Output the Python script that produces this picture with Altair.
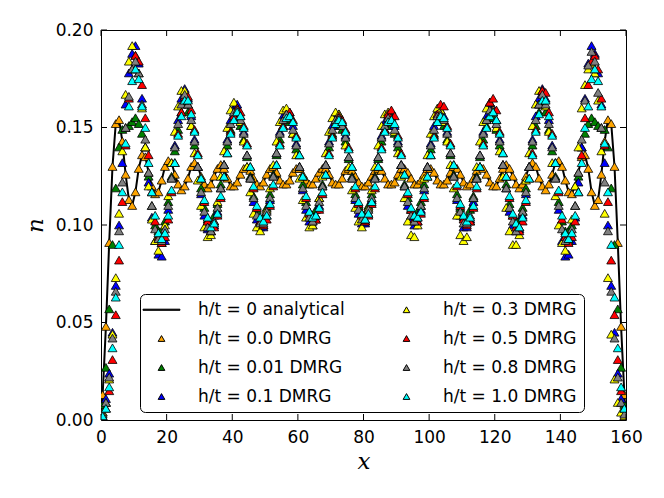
import altair as alt
import pandas as pd

# ---- data: density n at each lattice site (160 sites) ----
orange_l = [0.013, 0.048, 0.091, 0.130, 0.152, 0.154, 0.143, 0.126, 0.113, 0.110,
            0.117, 0.129, 0.136, 0.135, 0.127, 0.120, 0.116, 0.117, 0.123, 0.130,
            0.133, 0.132, 0.126, 0.121, 0.118, 0.120, 0.124, 0.130, 0.132, 0.130,
            0.125, 0.121, 0.119, 0.121, 0.125, 0.129, 0.131, 0.129, 0.124, 0.120,
            0.120, 0.122, 0.126, 0.129, 0.130, 0.128, 0.124, 0.121, 0.120, 0.122,
            0.126, 0.129, 0.130, 0.127, 0.123, 0.121, 0.121, 0.123, 0.127, 0.129,
            0.129, 0.126, 0.123, 0.121, 0.121, 0.124, 0.127, 0.129, 0.129, 0.126,
            0.122, 0.121, 0.121, 0.124, 0.128, 0.129, 0.128, 0.125, 0.122, 0.120]
orange_r = [0.120, 0.122, 0.125, 0.128, 0.129, 0.128, 0.124, 0.121, 0.121, 0.122,
            0.126, 0.129, 0.129, 0.127, 0.124, 0.121, 0.121, 0.123, 0.126, 0.129,
            0.129, 0.127, 0.123, 0.121, 0.121, 0.123, 0.127, 0.130, 0.129, 0.126,
            0.122, 0.120, 0.121, 0.124, 0.128, 0.130, 0.129, 0.126, 0.122, 0.120,
            0.120, 0.124, 0.129, 0.131, 0.129, 0.125, 0.121, 0.119, 0.121, 0.125,
            0.130, 0.132, 0.130, 0.124, 0.120, 0.118, 0.121, 0.126, 0.132, 0.133,
            0.130, 0.123, 0.117, 0.116, 0.120, 0.127, 0.135, 0.136, 0.129, 0.117,
            0.110, 0.113, 0.126, 0.143, 0.154, 0.152, 0.130, 0.091, 0.048, 0.013]

green_l = [0.008, 0.027, 0.057, 0.090, 0.119, 0.140, 0.149, 0.150, 0.151, 0.153,
           0.155, 0.152, 0.147, 0.140, 0.125, 0.110, 0.100, 0.097, 0.097, 0.102,
           0.112, 0.125, 0.138, 0.149, 0.158, 0.162, 0.158, 0.151, 0.141, 0.130,
           0.119, 0.109, 0.103, 0.101, 0.105, 0.111, 0.121, 0.131, 0.141, 0.149,
           0.155, 0.155, 0.151, 0.144, 0.135, 0.125, 0.115, 0.108, 0.104, 0.104,
           0.109, 0.116, 0.126, 0.136, 0.144, 0.151, 0.154, 0.153, 0.147, 0.139,
           0.130, 0.121, 0.112, 0.107, 0.105, 0.108, 0.114, 0.121, 0.131, 0.140,
           0.147, 0.151, 0.152, 0.149, 0.143, 0.134, 0.125, 0.116, 0.110, 0.106]
green_r = [0.106, 0.110, 0.116, 0.125, 0.134, 0.143, 0.149, 0.152, 0.151, 0.147,
           0.140, 0.131, 0.121, 0.114, 0.108, 0.105, 0.107, 0.112, 0.121, 0.130,
           0.139, 0.147, 0.153, 0.154, 0.151, 0.144, 0.136, 0.126, 0.116, 0.109,
           0.104, 0.104, 0.108, 0.115, 0.125, 0.135, 0.144, 0.151, 0.155, 0.155,
           0.149, 0.141, 0.131, 0.121, 0.111, 0.105, 0.101, 0.103, 0.109, 0.119,
           0.130, 0.141, 0.151, 0.158, 0.162, 0.158, 0.149, 0.138, 0.125, 0.112,
           0.102, 0.097, 0.097, 0.100, 0.110, 0.125, 0.140, 0.147, 0.152, 0.155,
           0.153, 0.151, 0.150, 0.149, 0.140, 0.119, 0.090, 0.057, 0.027, 0.008]

blue_l = [0.004, 0.011, 0.024, 0.045, 0.069, 0.100, 0.132, 0.162, 0.178, 0.188,
          0.192, 0.183, 0.165, 0.140, 0.122, 0.104, 0.092, 0.085, 0.084, 0.092,
          0.108, 0.124, 0.141, 0.154, 0.165, 0.170, 0.165, 0.156, 0.144, 0.130,
          0.116, 0.105, 0.098, 0.097, 0.100, 0.107, 0.119, 0.131, 0.144, 0.154,
          0.160, 0.162, 0.156, 0.148, 0.136, 0.124, 0.112, 0.103, 0.099, 0.099,
          0.105, 0.113, 0.125, 0.137, 0.148, 0.156, 0.159, 0.158, 0.151, 0.142,
          0.130, 0.118, 0.108, 0.102, 0.100, 0.103, 0.110, 0.120, 0.131, 0.143,
          0.151, 0.156, 0.157, 0.153, 0.146, 0.135, 0.124, 0.113, 0.106, 0.101]
blue_r = [0.101, 0.106, 0.113, 0.124, 0.135, 0.146, 0.153, 0.157, 0.156, 0.151,
          0.143, 0.131, 0.120, 0.110, 0.103, 0.100, 0.102, 0.108, 0.118, 0.130,
          0.142, 0.151, 0.158, 0.159, 0.156, 0.148, 0.137, 0.125, 0.113, 0.105,
          0.099, 0.099, 0.103, 0.112, 0.124, 0.136, 0.148, 0.156, 0.162, 0.160,
          0.154, 0.144, 0.131, 0.119, 0.107, 0.100, 0.097, 0.098, 0.105, 0.116,
          0.130, 0.144, 0.156, 0.165, 0.170, 0.165, 0.154, 0.141, 0.124, 0.108,
          0.092, 0.084, 0.085, 0.092, 0.104, 0.122, 0.140, 0.165, 0.183, 0.192,
          0.188, 0.178, 0.162, 0.132, 0.100, 0.069, 0.045, 0.024, 0.011, 0.004]

yellow_l = [0.004, 0.009, 0.021, 0.044, 0.073, 0.106, 0.138, 0.167, 0.184, 0.192,
            0.187, 0.178, 0.160, 0.140, 0.120, 0.103, 0.092, 0.087, 0.091, 0.100,
            0.115, 0.132, 0.148, 0.161, 0.169, 0.169, 0.162, 0.151, 0.137, 0.123,
            0.110, 0.099, 0.094, 0.095, 0.102, 0.112, 0.125, 0.138, 0.150, 0.159,
            0.163, 0.160, 0.153, 0.143, 0.130, 0.117, 0.106, 0.099, 0.097, 0.100,
            0.108, 0.119, 0.131, 0.143, 0.153, 0.159, 0.160, 0.156, 0.147, 0.136,
            0.124, 0.113, 0.104, 0.099, 0.100, 0.105, 0.114, 0.125, 0.137, 0.148,
            0.155, 0.158, 0.157, 0.151, 0.141, 0.130, 0.118, 0.109, 0.102, 0.099]
yellow_r = [0.102, 0.109, 0.118, 0.130, 0.141, 0.151, 0.157, 0.158, 0.155, 0.148,
            0.137, 0.125, 0.114, 0.102, 0.095, 0.094, 0.100, 0.110, 0.124, 0.136,
            0.147, 0.156, 0.160, 0.159, 0.153, 0.143, 0.131, 0.119, 0.105, 0.095,
            0.092, 0.094, 0.102, 0.114, 0.130, 0.143, 0.153, 0.160, 0.163, 0.159,
            0.150, 0.138, 0.125, 0.109, 0.097, 0.090, 0.090, 0.095, 0.107, 0.123,
            0.137, 0.151, 0.162, 0.169, 0.169, 0.161, 0.148, 0.132, 0.115, 0.100,
            0.091, 0.087, 0.092, 0.103, 0.120, 0.140, 0.160, 0.172, 0.180, 0.183,
            0.178, 0.164, 0.138, 0.106, 0.073, 0.044, 0.021, 0.009, 0.004, 0.002]

red_l = [0.002, 0.006, 0.015, 0.031, 0.054, 0.082, 0.112, 0.141, 0.165, 0.180,
         0.187, 0.184, 0.172, 0.155, 0.136, 0.117, 0.102, 0.094, 0.091, 0.094,
         0.103, 0.117, 0.132, 0.147, 0.158, 0.166, 0.166, 0.159, 0.149, 0.137,
         0.124, 0.112, 0.102, 0.097, 0.099, 0.105, 0.114, 0.125, 0.137, 0.148,
         0.156, 0.160, 0.158, 0.151, 0.142, 0.130, 0.119, 0.109, 0.102, 0.100,
         0.103, 0.110, 0.120, 0.131, 0.142, 0.151, 0.157, 0.158, 0.154, 0.146,
         0.136, 0.125, 0.114, 0.106, 0.102, 0.103, 0.108, 0.116, 0.126, 0.137,
         0.146, 0.153, 0.156, 0.154, 0.149, 0.140, 0.130, 0.119, 0.111, 0.105]
red_r = [0.102, 0.105, 0.111, 0.119, 0.130, 0.140, 0.149, 0.157, 0.159, 0.156,
         0.146, 0.137, 0.126, 0.116, 0.108, 0.103, 0.102, 0.106, 0.114, 0.125,
         0.136, 0.146, 0.157, 0.162, 0.161, 0.151, 0.142, 0.131, 0.120, 0.110,
         0.103, 0.100, 0.102, 0.109, 0.119, 0.130, 0.142, 0.154, 0.163, 0.165,
         0.159, 0.148, 0.137, 0.125, 0.114, 0.105, 0.099, 0.097, 0.102, 0.112,
         0.124, 0.137, 0.149, 0.162, 0.169, 0.168, 0.158, 0.147, 0.132, 0.117,
         0.103, 0.094, 0.091, 0.094, 0.102, 0.117, 0.136, 0.155, 0.172, 0.184,
         0.187, 0.180, 0.165, 0.141, 0.112, 0.082, 0.054, 0.031, 0.015, 0.006]

gray_l = [0.003, 0.009, 0.022, 0.042, 0.066, 0.097, 0.122, 0.150, 0.166, 0.180,
          0.184, 0.178, 0.162, 0.144, 0.127, 0.110, 0.098, 0.093, 0.092, 0.098,
          0.110, 0.124, 0.140, 0.152, 0.162, 0.167, 0.162, 0.154, 0.143, 0.130,
          0.117, 0.107, 0.099, 0.097, 0.102, 0.109, 0.119, 0.131, 0.143, 0.152,
          0.158, 0.159, 0.154, 0.147, 0.136, 0.124, 0.114, 0.105, 0.101, 0.101,
          0.107, 0.114, 0.125, 0.137, 0.147, 0.154, 0.157, 0.156, 0.149, 0.141,
          0.130, 0.119, 0.110, 0.104, 0.102, 0.105, 0.112, 0.120, 0.131, 0.142,
          0.149, 0.154, 0.155, 0.151, 0.145, 0.135, 0.124, 0.114, 0.108, 0.103]
gray_r = [0.103, 0.108, 0.114, 0.124, 0.135, 0.145, 0.151, 0.155, 0.154, 0.149,
          0.142, 0.131, 0.120, 0.112, 0.105, 0.102, 0.104, 0.110, 0.119, 0.130,
          0.141, 0.149, 0.156, 0.157, 0.154, 0.147, 0.137, 0.125, 0.114, 0.107,
          0.101, 0.101, 0.105, 0.114, 0.124, 0.136, 0.147, 0.154, 0.159, 0.158,
          0.152, 0.143, 0.131, 0.119, 0.109, 0.102, 0.097, 0.099, 0.107, 0.117,
          0.130, 0.143, 0.154, 0.162, 0.167, 0.162, 0.152, 0.140, 0.124, 0.110,
          0.098, 0.092, 0.093, 0.098, 0.110, 0.127, 0.144, 0.164, 0.182, 0.189,
          0.184, 0.168, 0.150, 0.122, 0.097, 0.066, 0.042, 0.022, 0.009, 0.003]

cyan_l = [0.002, 0.006, 0.017, 0.037, 0.063, 0.090, 0.117, 0.142, 0.161, 0.174,
          0.180, 0.175, 0.161, 0.150, 0.132, 0.117, 0.105, 0.096, 0.093, 0.096,
          0.105, 0.118, 0.132, 0.146, 0.156, 0.164, 0.164, 0.157, 0.148, 0.136,
          0.124, 0.113, 0.104, 0.099, 0.101, 0.106, 0.115, 0.125, 0.137, 0.147,
          0.154, 0.158, 0.156, 0.150, 0.141, 0.130, 0.120, 0.110, 0.104, 0.102,
          0.105, 0.111, 0.121, 0.131, 0.141, 0.150, 0.155, 0.156, 0.153, 0.145,
          0.136, 0.125, 0.115, 0.107, 0.104, 0.105, 0.109, 0.117, 0.126, 0.136,
          0.145, 0.152, 0.154, 0.153, 0.148, 0.139, 0.130, 0.120, 0.112, 0.106]
cyan_r = [0.103, 0.106, 0.112, 0.120, 0.130, 0.139, 0.148, 0.153, 0.154, 0.152,
          0.145, 0.136, 0.126, 0.117, 0.109, 0.105, 0.104, 0.107, 0.115, 0.125,
          0.136, 0.145, 0.153, 0.156, 0.155, 0.150, 0.141, 0.131, 0.121, 0.111,
          0.105, 0.102, 0.104, 0.110, 0.120, 0.130, 0.141, 0.150, 0.156, 0.158,
          0.154, 0.147, 0.137, 0.125, 0.115, 0.106, 0.101, 0.099, 0.104, 0.113,
          0.124, 0.136, 0.148, 0.157, 0.164, 0.164, 0.156, 0.146, 0.132, 0.118,
          0.105, 0.096, 0.093, 0.096, 0.105, 0.117, 0.132, 0.150, 0.161, 0.175,
          0.180, 0.174, 0.161, 0.142, 0.117, 0.090, 0.063, 0.037, 0.017, 0.006]

for _lst in [orange_l, orange_r, green_l, green_r, blue_l, blue_r, yellow_l, yellow_r,
             red_l, red_r, gray_l, gray_r, cyan_l, cyan_r]:
    assert len(_lst) == 80, len(_lst)

SITES = [j - 0.5 for j in range(1, 161)]
X_TICKS = [0, 20, 40, 60, 80, 100, 120, 140, 160]
Y_TICKS = [0.0, 0.05, 0.10, 0.15, 0.20]

ANALYTICAL_LABEL = "h/t = 0 analytical"
SERIES = [
    ("h/t = 0.0 DMRG", orange_l + orange_r),
    ("h/t = 0.01 DMRG", green_l + green_r),
    ("h/t = 0.1 DMRG", blue_l + blue_r),
    ("h/t = 0.3 DMRG", yellow_l + yellow_r),
    ("h/t = 0.5 DMRG", red_l + red_r),
    ("h/t = 0.8 DMRG", gray_l + gray_r),
    ("h/t = 1.0 DMRG", cyan_l + cyan_r),
]
# legend order (two columns, filled column by column)
LEG_DOMAIN = [ANALYTICAL_LABEL] + [name for name, _ in SERIES]
LEG_COLORS = ["#000000", "#ffa500", "#008000", "#0000ff",
              "#ffff00", "#ff0000", "#808080", "#00ffff"]
LINE_SYMBOL = "M-5.5,-0.17L5.5,-0.17L5.5,0.17L-5.5,0.17Z"
LEG_SHAPES = [LINE_SYMBOL] + ["triangle-up"] * 7

rows = []
for k, (name, vals) in enumerate(SERIES):
    for x, v in zip(SITES, vals):
        rows.append({"x": x, "n": v, "series": name, "k": k})
pts_df = pd.DataFrame(rows)

ana_df = pd.DataFrame({"x": [0.0] + SITES + [160.0],
                       "n": [0.0] + orange_l + orange_r + [0.0]})
xt_df = pd.DataFrame({"x": X_TICKS})
yt_df = pd.DataFrame({"n": Y_TICKS})

xs = alt.Scale(domain=[0, 160], nice=False, zero=False)
ys = alt.Scale(domain=[0, 0.2], nice=False, zero=False)

xaxis = alt.Axis(values=X_TICKS, format="d", ticks=False, domain=False, grid=False,
                 labelFont="DejaVu Sans", labelFontSize=17, labelColor="black",
                 labelPadding=9, labelFlush=False,
                 title="x", titleFont="DejaVu Serif", titleFontStyle="italic",
                 titleFontWeight="normal", titleFontSize=23, titleColor="black",
                 titlePadding=5)
yaxis = alt.Axis(values=Y_TICKS, format=".2f", ticks=False, domain=False, grid=False,
                 labelFont="DejaVu Sans", labelFontSize=17, labelColor="black",
                 labelPadding=8, labelFlush=False,
                 title="n", titleFont="DejaVu Serif", titleFontStyle="italic",
                 titleFontWeight="normal", titleFontSize=23, titleColor="black",
                 titlePadding=8)

leg = alt.Legend(title=None, orient="none", legendX=39, legendY=264, columns=2,
                 labelFont="DejaVu Sans", labelFontSize=17, labelColor="black",
                 labelLimit=400, symbolSize=45, symbolStrokeColor="black",
                 symbolStrokeWidth=1, symbolOffset=6, labelOffset=28,
                 padding=7, rowPadding=11, columnPadding=47,
                 strokeColor="black", fillColor="white", cornerRadius=5)

line = alt.Chart(ana_df).mark_line(color="black", strokeWidth=2, clip=True).encode(
    x=alt.X("x:Q", scale=xs, axis=xaxis),
    y=alt.Y("n:Q", scale=ys, axis=yaxis),
)

points = alt.Chart(pts_df).mark_point(filled=True, size=80, stroke="black",
                                      strokeWidth=0.8, opacity=1, clip=True).encode(
    x=alt.X("x:Q", scale=xs, axis=xaxis),
    y=alt.Y("n:Q", scale=ys, axis=yaxis),
    color=alt.Color("series:N", scale=alt.Scale(domain=LEG_DOMAIN, range=LEG_COLORS), legend=leg),
    shape=alt.Shape("series:N", scale=alt.Scale(domain=LEG_DOMAIN, range=LEG_SHAPES), legend=leg),
    order=alt.Order("k:Q"),
)

tick_style = dict(color="black", strokeWidth=1)
xt_bottom = alt.Chart(xt_df).mark_rule(**tick_style).encode(
    x=alt.X("x:Q", scale=xs, axis=xaxis), y=alt.value(390), y2=alt.value(384))
xt_top = alt.Chart(xt_df).mark_rule(**tick_style).encode(
    x=alt.X("x:Q", scale=xs, axis=xaxis), y=alt.value(0), y2=alt.value(6))
yt_left = alt.Chart(yt_df).mark_rule(**tick_style).encode(
    y=alt.Y("n:Q", scale=ys, axis=yaxis), x=alt.value(0), x2=alt.value(6))
yt_right = alt.Chart(yt_df).mark_rule(**tick_style).encode(
    y=alt.Y("n:Q", scale=ys, axis=yaxis), x=alt.value(525), x2=alt.value(519))

chart = alt.layer(line, points, xt_bottom, xt_top, yt_left, yt_right).properties(
    width=525, height=390,
    padding={"left": 93, "top": 22, "right": 28, "bottom": 66},
    autosize=alt.AutoSizeParams(type="none"),
    background="white",
).configure_view(stroke="black", strokeWidth=1)

chart.save("out.html", embed_options={"renderer": "svg", "actions": False})
